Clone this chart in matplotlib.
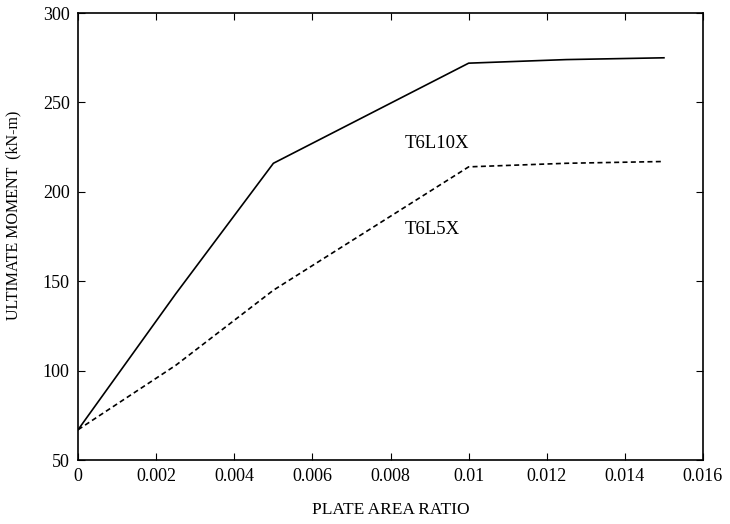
import numpy as np
import matplotlib.pyplot as plt

# plate area ratio and ultimate moment (kN-m)
plateRatio = [0.0, 0.0025, 0.005, 0.01, 0.0125, 0.015]
momentT6L10X = [67, 143, 216, 272, 274, 275]
momentT6L5X = [67, 103, 145, 214, 216, 217]

xTicks = [0, 0.002, 0.004, 0.006, 0.008, 0.01, 0.012, 0.014, 0.016]
xTickLabels = ["0", "0.002", "0.004", "0.006", "0.008", "0.01", "0.012", "0.014", "0.016"]
yTicks = [50, 100, 150, 200, 250, 300]

plt.rcParams['font.family'] = ['Liberation Serif', 'DejaVu Serif']

fig = plt.figure(figsize=(7.30, 5.24), dpi=100)
ax = fig.add_axes([0.107, 0.122, 0.856, 0.853])

ax.plot(plateRatio, momentT6L10X, 'k-', lw=1.2)
ax.plot(plateRatio, momentT6L5X, 'k--', lw=1.2, dashes=(3, 2))

ax.text(0.00835, 227, "T6L10X", fontsize=13.5, va='center')
ax.text(0.00835, 179, "T6L5X", fontsize=13.5, va='center')

ax.set_xlim(0, 0.016)
ax.set_ylim(50, 300)
ax.set_xticks(xTicks)
ax.set_xticklabels(xTickLabels)
ax.set_yticks(yTicks)
ax.tick_params(direction='in', top=True, right=True, labelsize=13, length=5, pad=6)

ax.set_xlabel("PLATE AREA RATIO", fontsize=12.5)
ax.set_ylabel("ULTIMATE MOMENT  (kN-m)", fontsize=11.5)
ax.xaxis.set_label_coords(0.5, -0.094)
ax.yaxis.set_label_coords(-0.09, 0.548)

for s in ax.spines.values():
    s.set_linewidth(1.2)

fig.savefig("out.png", dpi=100)
